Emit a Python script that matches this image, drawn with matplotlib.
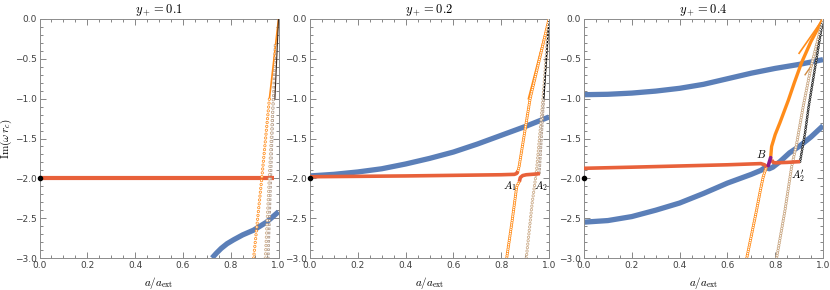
import matplotlib
matplotlib.use('Agg')
import matplotlib.pyplot as plt
from matplotlib.ticker import MultipleLocator

plt.rcParams['mathtext.fontset'] = 'cm'
plt.rcParams['font.family'] = 'DejaVu Sans'
plt.rcParams['lines.scale_dashes'] = False
plt.rcParams['lines.solid_joinstyle'] = 'round'

BLUE = '#5b7fb8'
RED = '#e8613a'
ORANGE = '#ff8c1a'
TAN = '#c9a783'
PURPLE = '#8b1a8b'

titles = ['$y_+ = 0.1$', '$y_+ = 0.2$', '$y_+ = 0.4$']

# ---- panel 1 (y+ = 0.1) ----
p1_red_x = [0.0, 0.98]
p1_red_y = [-1.99, -1.99]
p1_blue_x = [0.722, 0.74, 0.76, 0.785, 0.813, 0.85, 0.896, 0.95, 1.0]
p1_blue_y = [-3.0, -2.94, -2.88, -2.82, -2.77, -2.71, -2.65, -2.55, -2.42]
p1_orange_pts_x = [0.896, 0.93, 0.962]
p1_orange_pts_y = [-3.0, -2.0, -1.0]
p1_orange_line_x = [0.962, 1.0]
p1_orange_line_y = [-1.0, 0.0]
p1_tan_x = [0.945, 0.978]
p1_tan_y = [-3.0, -1.0]
p1_sq_x = [0.957, 0.986]
p1_sq_y = [-3.0, -0.3]
p1_black_x = [0.985, 1.0]
p1_black_y = [-1.0, 0.0]

# ---- panel 2 (y+ = 0.2) ----
p2_blue_x = [0.0, 0.1, 0.2, 0.3, 0.4, 0.5, 0.6, 0.7, 0.8, 0.9, 1.0]
p2_blue_y = [-1.97, -1.95, -1.92, -1.88, -1.82, -1.75, -1.67, -1.57, -1.46, -1.35, -1.23]
p2_red1_x = [0.0, 0.4, 0.8, 0.855, 0.864, 0.87]
p2_red1_y = [-1.98, -1.97, -1.955, -1.95, -1.94, -1.91]
p2_red2_x = [0.876, 0.88, 0.89, 0.905, 0.948, 0.962]
p2_red2_y = [-2.04, -1.99, -1.965, -1.955, -1.945, -1.94]
p2_orange_lo_x = [0.823, 0.845, 0.865, 0.876]
p2_orange_lo_y = [-3.0, -2.55, -2.10, -2.04]
p2_orange_hi_x = [0.868, 0.875, 0.921, 1.0]
p2_orange_hi_y = [-1.93, -1.85, -1.0, 0.0]
p2_orange_line_x = [0.914, 1.0]
p2_orange_line_y = [-1.0, 0.0]
p2_tan_x = [0.905, 0.93, 0.948, 0.975, 1.0]
p2_tan_y = [-3.0, -2.3, -1.9, -1.0, 0.0]
p2_sq_x = [0.96, 0.978]
p2_sq_y = [-1.93, -1.0]
p2_black_x = [0.978, 1.0]
p2_black_y = [-1.0, 0.0]

# ---- panel 3 (y+ = 0.4) ----
p3_blue_up_x = [0.0, 0.1, 0.2, 0.3, 0.4, 0.5, 0.6, 0.7, 0.8, 0.9, 1.0]
p3_blue_up_y = [-0.95, -0.945, -0.93, -0.905, -0.87, -0.82, -0.75, -0.68, -0.62, -0.57, -0.51]
p3_blue_lo_x = [0.0, 0.1, 0.2, 0.3, 0.4, 0.5, 0.6, 0.7, 0.74, 0.76, 0.775, 0.79, 0.82, 0.86, 0.9, 0.95, 1.0]
p3_blue_lo_y = [-2.55, -2.53, -2.48, -2.40, -2.31, -2.19, -2.06, -1.95, -1.90, -1.86, -1.88, -1.86, -1.79, -1.68, -1.60, -1.48, -1.34]
p3_red1_x = [0.0, 0.2, 0.4, 0.6, 0.74, 0.755, 0.765]
p3_red1_y = [-1.874, -1.86, -1.845, -1.83, -1.815, -1.83, -1.86]
p3_purple_x = [0.771, 0.781]
p3_purple_y = [-1.84, -1.74]
p3_red2_x = [0.785, 0.792, 0.8, 0.85, 0.904]
p3_red2_y = [-1.77, -1.80, -1.805, -1.80, -1.79]
p3_orange_lo_x = [0.681, 0.705, 0.722, 0.738, 0.75, 0.764]
p3_orange_lo_y = [-3.0, -2.65, -2.40, -2.15, -1.98, -1.85]
p3_orange_hi_x = [0.781, 0.785, 0.80, 0.82, 0.855, 0.88, 0.91, 0.95, 1.0]
p3_orange_hi_y = [-1.74, -1.60, -1.45, -1.30, -1.02, -0.80, -0.55, -0.28, 0.0]
p3_orange_line_x = [0.90, 1.0]
p3_orange_line_y = [-0.43, 0.0]
p3_orange_stub_x = [0.925, 0.953]
p3_orange_stub_y = [-0.70, -0.58]
p3_tan_x = [0.806, 0.841, 0.869, 0.89, 0.917, 0.95, 1.0]
p3_tan_y = [-3.0, -2.40, -1.85, -1.56, -1.1, -0.6, 0.0]
p3_black_x = [0.904, 0.925, 0.94, 0.97, 1.0]
p3_black_y = [-1.79, -1.43, -1.1, -0.55, 0.0]

# labels (text, x, y) per panel
p2_labels = [('$A_1$', 0.835, -2.1), ('$A_2$', 0.968, -2.1)]
p3_labels = [('$B$', 0.74, -1.69), ("$A_2'$", 0.895, -1.97)]


def rings(ax, x, y, color, size=2.3, gap=2.5, square=False):
    # open markers along a path: dotted line, then a white dotted line on top of it
    cap = 'projecting' if square else 'round'
    ax.plot(x, y, color=color, lw=size, dashes=(0.001, gap), dash_capstyle=cap, zorder=3)
    ax.plot(x, y, color='white', lw=size - 1.1, dashes=(0.001, gap), dash_capstyle=cap, zorder=3.1)


fig = plt.figure(figsize=(8.3, 2.9), dpi=100)
lefts = [39.5 / 830, 310 / 830, 584 / 830]
axes = [fig.add_axes([l, 32 / 290, 239 / 830, 239 / 290]) for l in lefts]

for i, ax in enumerate(axes):
    ax.set_xlim(0, 1)
    ax.set_ylim(-3, 0)
    ax.xaxis.set_major_locator(MultipleLocator(0.2))
    ax.xaxis.set_minor_locator(MultipleLocator(0.05))
    ax.yaxis.set_major_locator(MultipleLocator(0.5))
    ax.yaxis.set_minor_locator(MultipleLocator(0.1))
    ax.tick_params(which='both', direction='in', top=True, right=True, color='0.45',
                   labelsize=6.5, labelcolor='0.25', width=0.6, pad=2)
    ax.tick_params(which='major', length=4)
    ax.tick_params(which='minor', length=2)
    ax.set_xticks([0, 0.2, 0.4, 0.6, 0.8, 1.0])
    ax.set_xticklabels(['0.0', '0.2', '0.4', '0.6', '0.8', '1.0'])
    ax.set_yticks([0, -0.5, -1, -1.5, -2, -2.5, -3])
    ax.set_yticklabels(['0.0', '\u22120.5', '\u22121.0', '\u22121.5', '\u22122.0', '\u22122.5', '\u22123.0'])
    for s in ax.spines.values():
        s.set_color('0.55')
        s.set_linewidth(0.7)
    ax.set_title(titles[i], fontsize=9, pad=4)
    ax.set_xlabel('$a/a_{\\rm ext}$', fontsize=8, labelpad=4)
    ax.plot([0], [-2.0], 'o', color='black', ms=3, clip_on=False, zorder=6)

axes[0].set_ylabel('$\\mathrm{Im}(\\omega\\, r_c)$', fontsize=8)
axes[0].yaxis.set_label_coords(-0.105, 0.5)

# panel 1
ax = axes[0]
rings(ax, p1_orange_pts_x, p1_orange_pts_y, ORANGE, gap=2.8)
rings(ax, p1_tan_x, p1_tan_y, TAN, gap=3.0)
rings(ax, p1_sq_x, p1_sq_y, '#b09a88', size=1.8, gap=3.0, square=True)
ax.plot(p1_orange_line_x, p1_orange_line_y, color=ORANGE, lw=1.2, zorder=3)
ax.plot(p1_black_x, p1_black_y, color='#402818', lw=0.8, zorder=3)
ax.plot(p1_red_x, p1_red_y, color=RED, lw=3.0, solid_capstyle='butt', zorder=2)
ax.plot(p1_blue_x, p1_blue_y, color=BLUE, lw=3.8, solid_capstyle='butt', zorder=2)

# panel 2
ax = axes[1]
ax.plot(p2_blue_x, p2_blue_y, color=BLUE, lw=3.8, solid_capstyle='butt', zorder=2)
rings(ax, p2_orange_lo_x, p2_orange_lo_y, ORANGE, gap=1.6)
rings(ax, p2_orange_hi_x, p2_orange_hi_y, ORANGE, gap=1.6)
rings(ax, p2_tan_x, p2_tan_y, TAN)
rings(ax, p2_sq_x, p2_sq_y, '#b09a88', size=1.8, gap=2.6, square=True)
ax.plot(p2_orange_line_x, p2_orange_line_y, color=ORANGE, lw=1.2, zorder=3)
ax.plot(p2_black_x, p2_black_y, color='black', lw=1.0, zorder=3)
ax.plot(p2_red1_x, p2_red1_y, color=RED, lw=2.6, solid_capstyle='butt', zorder=4)
ax.plot(p2_red2_x, p2_red2_y, color=RED, lw=2.6, solid_capstyle='butt', zorder=4)
for t, x, y in p2_labels:
    ax.text(x, y, t, fontsize=8, ha='center', va='center')

# panel 3
ax = axes[2]
ax.plot(p3_blue_up_x, p3_blue_up_y, color=BLUE, lw=3.8, solid_capstyle='butt', zorder=2)
ax.plot(p3_blue_lo_x, p3_blue_lo_y, color=BLUE, lw=3.8, solid_capstyle='butt', zorder=2)
rings(ax, p3_orange_lo_x, p3_orange_lo_y, ORANGE, gap=1.6)
ax.plot(p3_orange_hi_x, p3_orange_hi_y, color=ORANGE, lw=2.4, zorder=3)
rings(ax, p3_tan_x, p3_tan_y, TAN, gap=1.8)
rings(ax, p3_black_x, p3_black_y, '#222222', size=2.0, gap=1.8)
ax.plot(p3_orange_line_x, p3_orange_line_y, color=ORANGE, lw=1.2, zorder=3)
ax.plot(p3_orange_stub_x, p3_orange_stub_y, color='#d08a40', lw=1.0, zorder=3)
ax.plot(p3_red1_x, p3_red1_y, color=RED, lw=2.6, solid_capstyle='butt', zorder=4)
ax.plot(p3_red2_x, p3_red2_y, color=RED, lw=2.6, solid_capstyle='butt', zorder=4)
ax.plot(p3_purple_x, p3_purple_y, color=PURPLE, lw=2.6, solid_capstyle='round', zorder=5)
for t, x, y in p3_labels:
    ax.text(x, y, t, fontsize=8, ha='center', va='center')

fig.savefig('out.png', dpi=100)
